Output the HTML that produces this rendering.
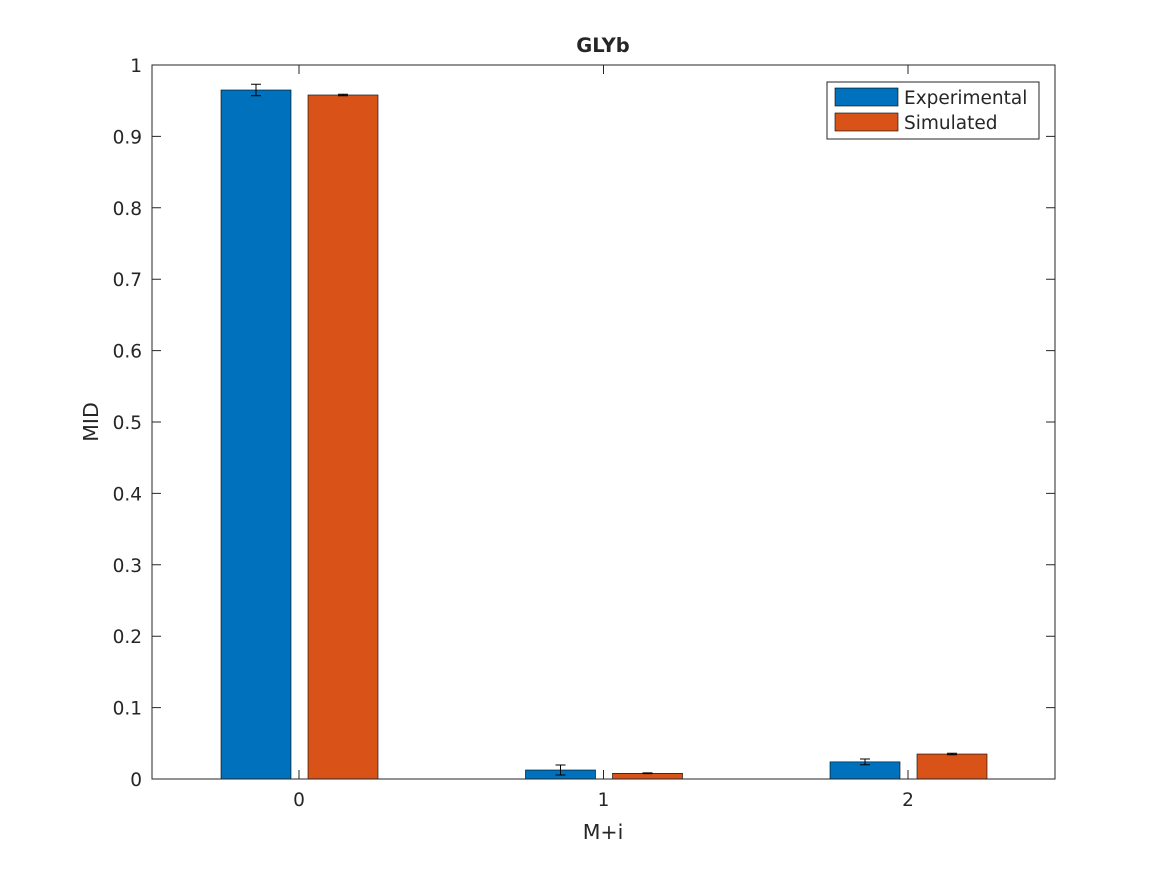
<!DOCTYPE html>
<html><head><meta charset="utf-8"><style>
body{margin:0;background:#fff}
svg text{font-family:"DejaVu Sans","Liberation Sans",sans-serif;fill:#262626}
</style></head><body>
<svg id="chart" width="1167" height="875" xmlns="http://www.w3.org/2000/svg">
<rect width="1167" height="875" fill="#fff"/>
<g id="g"></g>
</svg>
<script>
const categories=[0,1,2];
const experimental=[0.965,0.0126,0.024];
const experimentalErr=[0.008,0.007,0.004];
const simulated=[0.958,0.008,0.035];
const simulatedErr=[0.001,0.0005,0.001];
const yTicks=[0,0.1,0.2,0.3,0.4,0.5,0.6,0.7,0.8,0.9,1];
const yTickLabels=["0","0.1","0.2","0.3","0.4","0.5","0.6","0.7","0.8","0.9","1"];

const L=152,R=1055,T=65,B=779;
const y=v=>B-v*(B-T);
const x=c=>299+c*304.5;
const NS="http://www.w3.org/2000/svg";
const g=document.getElementById('g');
function mk(t,a,txt){const e=document.createElementNS(NS,t);for(const k in a)e.setAttribute(k,a[k]);if(txt!==undefined)e.textContent=txt;g.appendChild(e);return e;}

const bw=70;
categories.forEach((c,i)=>{
  const b1=mk('rect',{x:x(c)-43-bw/2,y:y(experimental[i]),width:bw,height:B-y(experimental[i]),fill:'#0072BD',stroke:'#000','stroke-width':0.6});
  
  
  const b2=mk('rect',{x:x(c)+44-bw/2,y:y(simulated[i]),width:bw,height:B-y(simulated[i]),fill:'#D95319',stroke:'#000','stroke-width':0.6});
  
  
  [[x(c)-43,experimental[i],experimentalErr[i]],[x(c)+44,simulated[i],simulatedErr[i]]].forEach(([cx,v,e],j)=>{
    const p=mk('path',{d:`M${cx},${y(v+e)}V${y(v-e)}M${cx-5},${y(v+e)}H${cx+5}M${cx-5},${y(v-e)}H${cx+5}`,stroke:'#000','stroke-width':1,fill:'none'});
    
    
  });
});

const ax=mk('rect',{x:L,y:T,width:R-L,height:B-T,fill:'none',stroke:'#262626','stroke-width':1});


yTicks.forEach((v,i)=>{
  mk('path',{d:`M${L},${y(v)}h9M${R},${y(v)}h-9`,stroke:'#262626','stroke-width':1});
  const t=mk('text',{x:L-10,y:y(v)+7,'text-anchor':'end','font-size':18.5},yTickLabels[i]);
  
  
});
categories.forEach(c=>{
  mk('path',{d:`M${x(c)},${B}v-9M${x(c)},${T}v9`,stroke:'#262626','stroke-width':1});
  const t=mk('text',{x:x(c),y:B+27,'text-anchor':'middle','font-size':18.5},String(c));
  
  
});
let t=mk('text',{x:603,y:839,'text-anchor':'middle','font-size':20.5},'M+i');


t=mk('text',{x:98,y:422,'text-anchor':'middle','font-size':20.5,transform:'rotate(-90 98 422)'},'MID');


t=mk('text',{x:603,y:52,'text-anchor':'middle','font-size':19.5,'font-weight':'bold'},'GLYb');



const lg=mk('rect',{x:827,y:82,width:212,height:57,fill:'#fff',stroke:'#262626','stroke-width':1});


mk('rect',{x:835,y:88,width:63,height:18,fill:'#0072BD',stroke:'#000','stroke-width':0.6});
mk('rect',{x:835,y:113,width:63,height:18,fill:'#D95319',stroke:'#000','stroke-width':0.6});
t=mk('text',{x:904,y:104,'font-size':18.5},'Experimental');


t=mk('text',{x:904,y:129,'font-size':18.5},'Simulated');


</script>
</body></html>
